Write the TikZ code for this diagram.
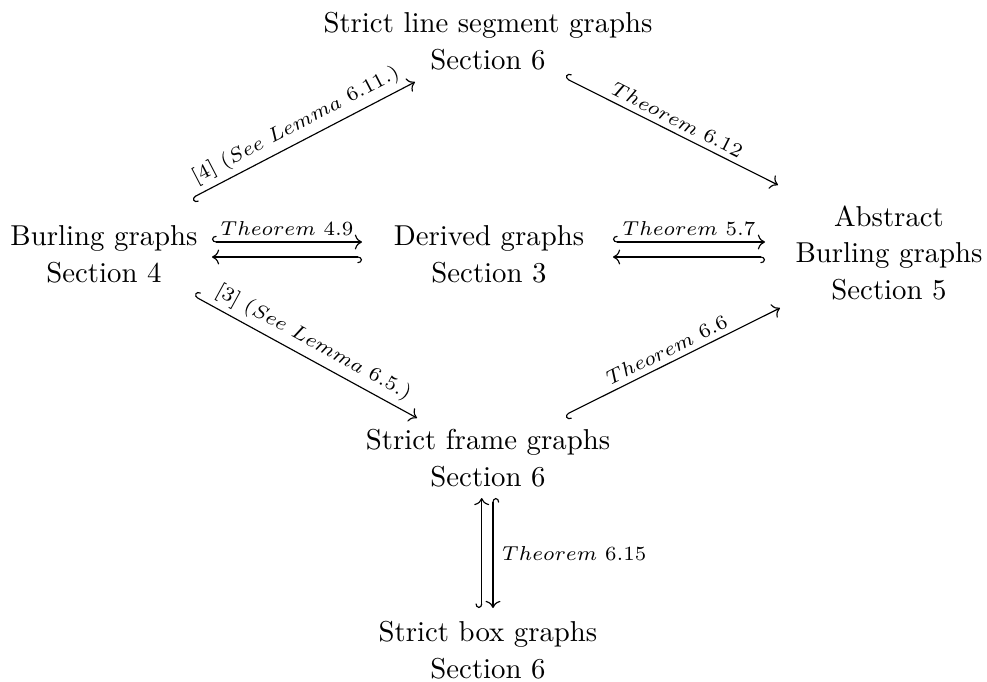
\documentclass[tikz,border=0pt]{standalone}
\usepackage{tikz-cd}
\begin{document}
\begin{tikzpicture}[x=0.34752pt,y=-0.34752pt,
  obj/.style={align=center, inner sep=0pt, font=\fontsize{10}{12.8}\selectfont},
  hk/.style={->, /tikz/commutative diagrams/hook, line width=0.4pt},
  hkp/.style={->, /tikz/commutative diagrams/hook', line width=0.4pt},
  lab/.style={font=\scriptsize, sloped, above, inner sep=2pt},
  labr/.style={font=\scriptsize, right, inner sep=3pt},
]
\useasboundingbox (0,0) rectangle (987,681);

\node[obj] (T) at (488,41.5) {Strict line segment graphs\\Section 6};
\node[obj] (B) at (104,254) {Burling graphs\\Section 4};
\node[obj] (D) at (489,254) {Derived graphs\\Section 3};
\node[obj] (A) at (889,253) {Abstract\\Burling graphs\\Section 5};
\node[obj] (F) at (488,458.5) {Strict frame graphs\\Section 6};
\node[obj] (X) at (488,650) {Strict box graphs\\Section 6};

% diagonals
\draw[hkp] ([shift={(88,-56)}]B.center) -- node[lab] {$[4]\ (See\ Lemma\ 6.11.)$} ([shift={(-73,40.5)}]T.center);
\draw[hk] ([shift={(77,36.5)}]T.center) -- node[lab] {$Theorem\ 6.12$} ([shift={(-111,-68)}]A.center);
\draw[hk] ([shift={(90,42)}]B.center) -- node[lab] {$[3]\ (See\ Lemma\ 6.5.)$} ([shift={(-71,-40.5)}]F.center);
\draw[hkp] ([shift={(77,-43.5)}]F.center) -- node[lab] {$Theorem\ 6.6$} ([shift={(-109,55)}]A.center);

% horizontals
\draw[hk] ([shift={(108,-12)}]B.center) -- node[lab] {$Theorem\ 4.9$} ([shift={(-127,-12)}]D.center);
\draw[hk] ([shift={(-127,3)}]D.center) -- ([shift={(108,3)}]B.center);
\draw[hk] ([shift={(124,-12)}]D.center) -- node[lab] {$Theorem\ 5.7$} ([shift={(-124,-11)}]A.center);
\draw[hk] ([shift={(-124,4)}]A.center) -- ([shift={(124,3)}]D.center);

% verticals
\draw[hk] ([shift={(-6.3,-42)}]X.center) -- ([shift={(-6.3,39.5)}]F.center);
\draw[hk] ([shift={(5,39.5)}]F.center) -- node[labr] {$Theorem\ 6.15$} ([shift={(5,-42)}]X.center);
\end{tikzpicture}
\end{document}
